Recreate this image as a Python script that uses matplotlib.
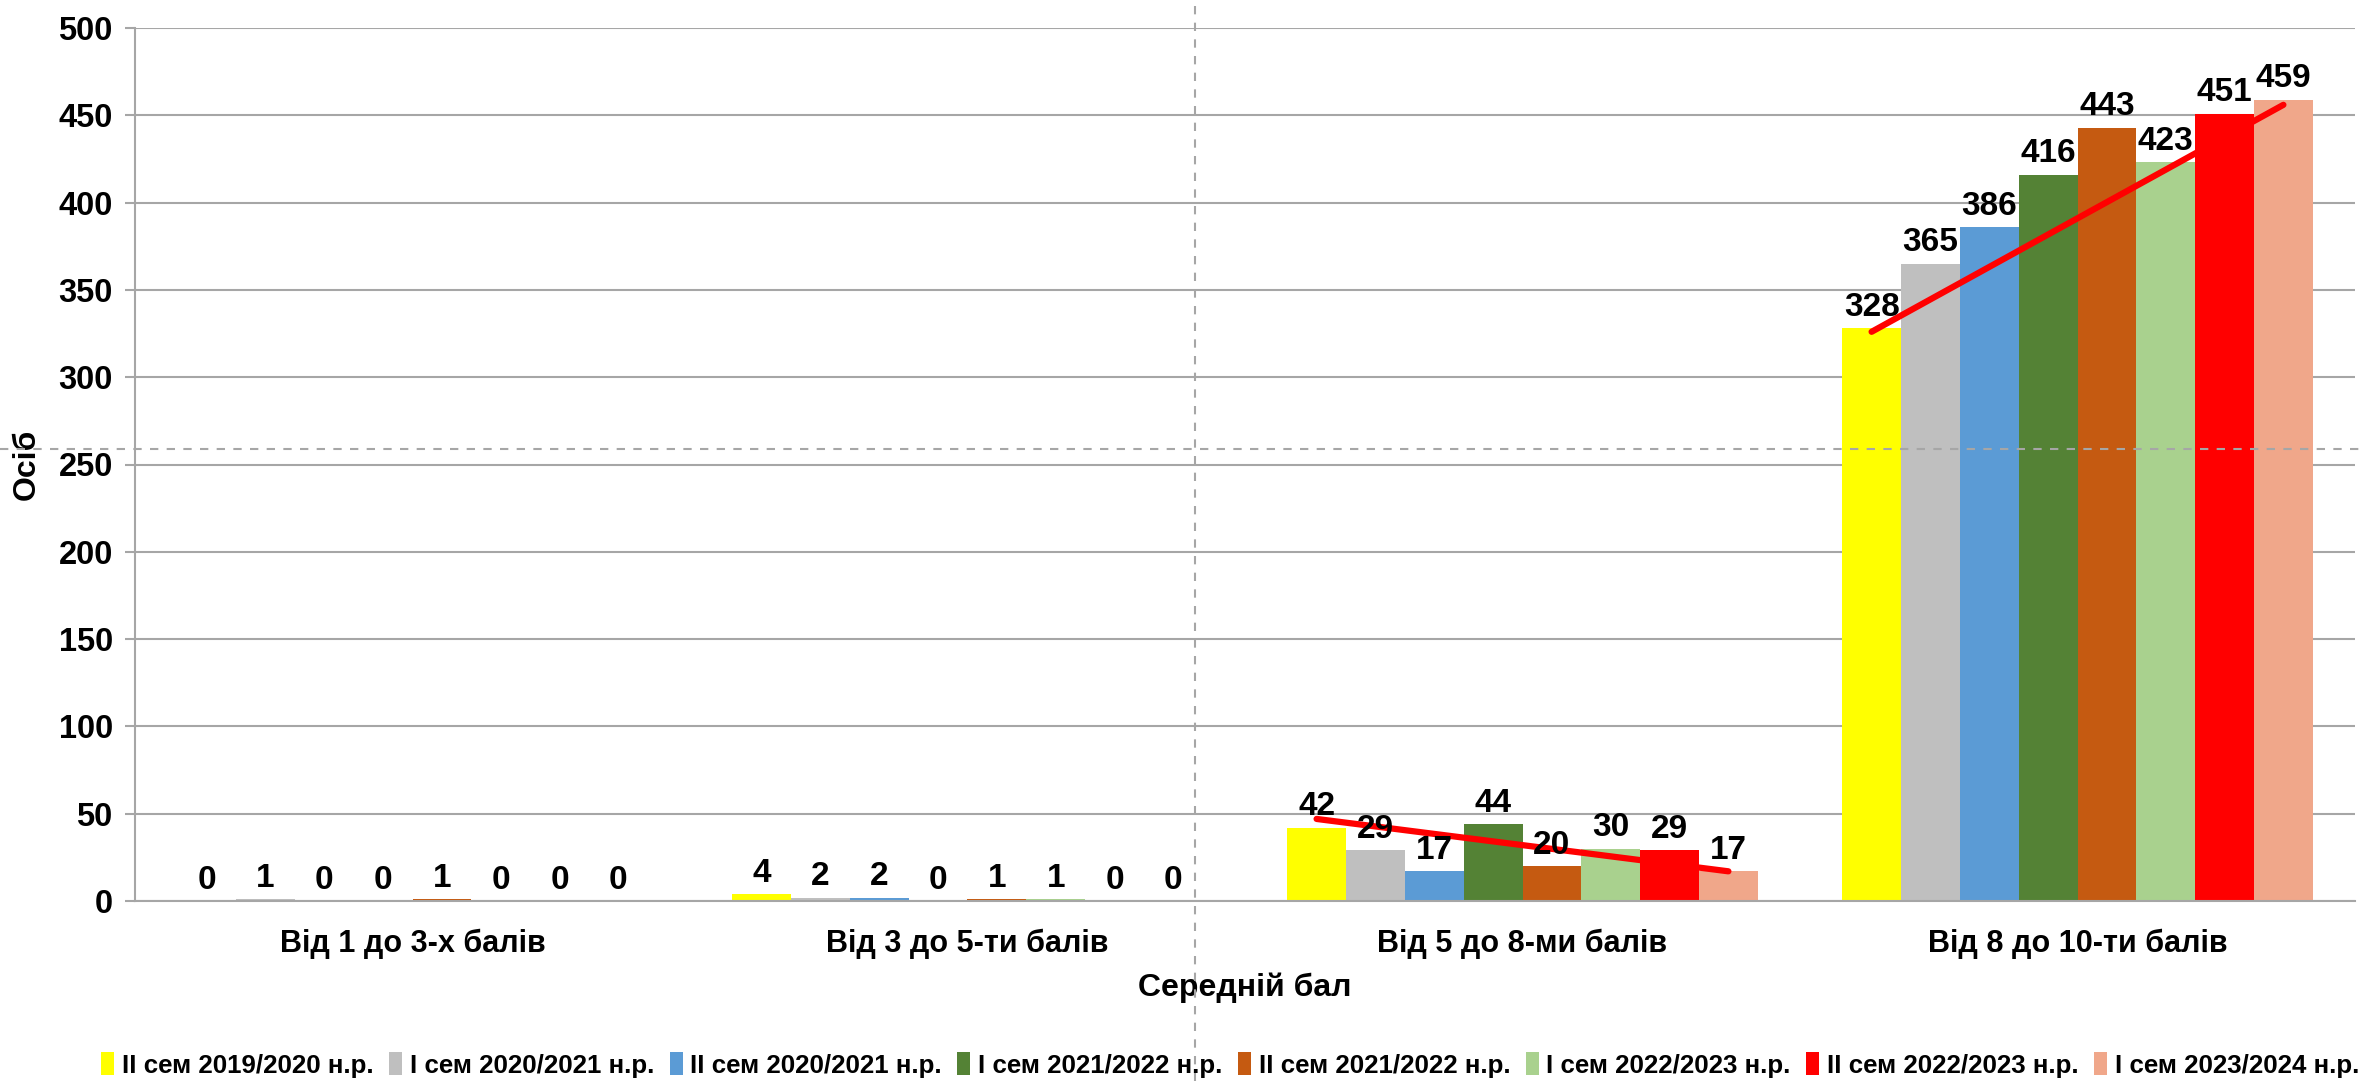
import numpy as np
import matplotlib
matplotlib.use('Agg')
import matplotlib.pyplot as plt
from matplotlib.lines import Line2D
from matplotlib.patches import Patch

plt.rcParams['font.family'] = ['Liberation Sans', 'DejaVu Sans']
plt.rcParams['font.weight'] = 'bold'

# дані
categories = ['Від 1 до 3-х балів', 'Від 3 до 5-ти балів', 'Від 5 до 8-ми балів', 'Від 8 до 10-ти балів']
series_names = ['II сем 2019/2020 н.р.', 'I сем 2020/2021 н.р.', 'II сем 2020/2021 н.р.', 'I сем 2021/2022 н.р.',
                'II сем 2021/2022 н.р.', 'I сем 2022/2023 н.р.', 'II сем 2022/2023 н.р.', 'I сем 2023/2024 н.р.']
s1 = [0, 4, 42, 328]
s2 = [1, 2, 29, 365]
s3 = [0, 2, 17, 386]
s4 = [0, 0, 44, 416]
s5 = [1, 1, 20, 443]
s6 = [0, 1, 30, 423]
s7 = [0, 0, 29, 451]
s8 = [0, 0, 17, 459]
series = [s1, s2, s3, s4, s5, s6, s7, s8]
colors = ['#FFFF00', '#BFBFBF', '#5B9BD5', '#548235', '#C55A11', '#A9D18E', '#FF0000', '#F0A78A']

# червоні лінії тренду (категорія, початок, кінець)
trend_cats = [2, 3]
trend_start = [47, 326]
trend_end = [17, 456]

fig = plt.figure(figsize=(23.64, 10.81), dpi=100)
ax = fig.add_axes([135 / 2364, 1 - 901 / 1081, (2355 - 135) / 2364, (901 - 28) / 1081])

x = np.arange(len(categories))
n = len(series)
w = 0.106
for i, (vals, c) in enumerate(zip(series, colors)):
    pos = x + (i - (n - 1) / 2) * w
    ax.bar(pos, vals, width=w, color=c, zorder=2)
    for p, v in zip(pos, vals):
        ax.annotate(str(v), (p, v), xytext=(0, 15), textcoords='offset points',
                    ha='center', va='center', fontsize=24, fontweight='bold', zorder=4)

for ci, a, b in zip(trend_cats, trend_start, trend_end):
    x0 = ci + (0 - (n - 1) / 2) * w
    x1 = ci + (n - 1 - (n - 1) / 2) * w
    ax.plot([x0, x1], [a, b], color='#FF0000', lw=4.5, solid_capstyle='round', zorder=3)

ax.set_xlim(-0.5, 3.5)
ax.set_ylim(0, 500)
ax.set_yticks(range(0, 501, 50))
ax.yaxis.grid(True, color='#A6A6A6', lw=1.5, zorder=0)
ax.set_axisbelow(True)
for s in ['top', 'right']:
    ax.spines[s].set_visible(False)
ax.spines['left'].set_color('#A6A6A6')
ax.spines['bottom'].set_color('#A6A6A6')
ax.spines['left'].set_linewidth(1.5)
ax.spines['bottom'].set_linewidth(1.5)
ax.tick_params(axis='y', length=7, color='#A6A6A6', width=1.5, labelsize=23.5, pad=9)
ax.tick_params(axis='x', length=0, labelsize=22, pad=20)
ax.set_xticks(x)
ax.set_xticklabels(categories, fontweight='bold')
for t in ax.get_yticklabels():
    t.set_fontweight('bold')
ax.set_xlabel('Середній бал', fontsize=23, fontweight='bold', labelpad=10)
ax.set_ylabel('Осіб', fontsize=23, fontweight='bold', va='center')
ax.yaxis.set_label_coords(-0.0486, 0.5)

handles = [Patch(facecolor=c, edgecolor='none') for c in colors]
leg = fig.legend(handles, series_names, loc='center', bbox_to_anchor=(816 / 1568, 1 - 1065 / 1081), ncol=8,
                 frameon=False, handlelength=0.5, handleheight=1.0, handletextpad=0.3,
                 columnspacing=0.6, prop={'weight': 'bold', 'size': 18.6})

# пунктирні лінії на знімку
fig.add_artist(Line2D([1195 / 2364, 1195 / 2364], [0, 1], color='#A6A6A6', lw=1.5, ls=(0, (4, 4))))
fig.add_artist(Line2D([0, 1], [1 - 449 / 1081, 1 - 449 / 1081], color='#A6A6A6', lw=1.5, ls=(0, (4, 4))))

fig.savefig('out.png', dpi=100)
